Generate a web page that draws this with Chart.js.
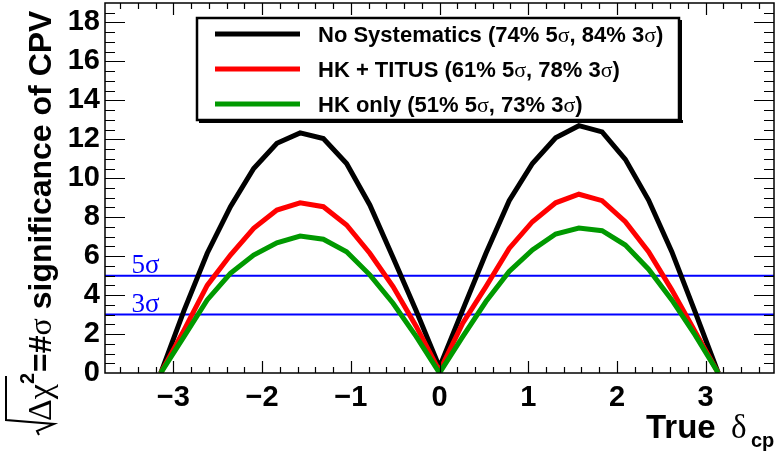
<!DOCTYPE html>
<html>

<head>
    <script src="https://cdn.jsdelivr.net/npm/chart.js"></script>
    <style>
        html,
        body {
            margin: 0px;
            padding: 0px;
            background: #ffffff;
        }

        .container {
            position: relative;
            width: 775px;
            height: 454px;
        }
    </style>
</head>

<body>
    <div class="container">
        <canvas id="myChart"></canvas>
    </div>

    <script>
        // true delta_cp values of the scan points
        const deltaCP = [-3.1416, -2.8798, -2.6180, -2.3562, -2.0944, -1.8326, -1.5708, -1.3090, -1.0472, -0.7854, -0.5236, -0.2618, 0,
            0.2618, 0.5236, 0.7854, 1.0472, 1.3090, 1.5708, 1.8326, 2.0944, 2.3562, 2.6180, 2.8798, 3.1416];

        const noSyst = [0, 3.2, 6.15, 8.54, 10.5, 11.8, 12.33, 12.04, 10.76, 8.63, 5.93, 3.19, 0.3,
            3.24, 6.15, 8.85, 10.76, 12.08, 12.7, 12.38, 10.97, 8.88, 6.23, 3.15, 0];
        const hkTitus = [0, 2.2, 4.5, 6.06, 7.43, 8.37, 8.74, 8.54, 7.6, 6.15, 4.44, 2.39, 0.1,
            2.56, 4.44, 6.4, 7.77, 8.74, 9.18, 8.85, 7.77, 6.23, 4.27, 2.13, 0];
        const hkOnly = [0, 1.87, 3.75, 5.12, 6.06, 6.69, 7.03, 6.87, 6.23, 5.04, 3.58, 1.87, 0,
            1.87, 3.67, 5.21, 6.32, 7.14, 7.44, 7.31, 6.57, 5.33, 3.75, 1.96, 0];

        const seriesNames = ['No Systematics (74% 5σ, 84% 3σ)', 'HK + TITUS (61% 5σ, 78% 3σ)', 'HK only (51% 5σ, 73% 3σ)'];
        const seriesColors = ['#000000', '#ff0000', '#009900'];

        const sigmaLevels = [5, 3];
        const sigmaLabels = ['5σ', '3σ'];

        const xTicks = [-3, -2, -1, 0, 1, 2, 3];
        const yTicks = [0, 2, 4, 6, 8, 10, 12, 14, 16, 18];
        const xRange = [-3.77, 3.77];
        const yRange = [0, 19];

        const sans = '"Liberation Sans", Arial, sans-serif';
        const serif = '"Liberation Serif", "Times New Roman", serif';

        function pts(ys) {
            return deltaCP.map((x, i) => ({ x: x, y: ys[i] }));
        }

        // bold sans text, with every sigma set in the serif face (like ROOT's symbol font)
        function richText(ctx, str, x, y, size) {
            const parts = str.split('σ');
            parts.forEach((p, i) => {
                ctx.font = 'bold ' + size + 'px ' + sans;
                ctx.fillText(p, x, y);
                x += ctx.measureText(p).width;
                if (i < parts.length - 1) {
                    ctx.font = size + 'px ' + serif;
                    ctx.fillText('σ', x, y);
                    x += ctx.measureText('σ').width;
                }
            });
            return x;
        }

        // ROOT style frame with inward ticks on all four sides
        const framePlugin = {
            id: 'frame',
            afterDatasetsDraw(chart) {
                const { ctx, chartArea: a } = chart;
                const x = chart.scales.x, y = chart.scales.y;
                ctx.save();
                ctx.strokeStyle = '#000';
                ctx.lineWidth = 1.5;
                ctx.strokeRect(a.left, a.top, a.right - a.left, a.bottom - a.top);
                ctx.lineWidth = 1.2;
                ctx.beginPath();
                for (let i = -19; i <= 19; i++) {
                    const px = Math.round(x.getPixelForValue(i * 0.2)) + 0.5;
                    if (px < a.left + 2 || px > a.right - 1) continue;
                    const len = i % 5 === 0 ? 12 : 6;
                    ctx.moveTo(px, a.bottom); ctx.lineTo(px, a.bottom - len);
                    ctx.moveTo(px, a.top); ctx.lineTo(px, a.top + len);
                }
                for (let i = 1; i <= 38; i++) {
                    const py = Math.round(y.getPixelForValue(i * 0.5)) + 0.5;
                    if (py < a.top + 2) continue;
                    const len = i % 4 === 0 ? 20 : 10;
                    ctx.moveTo(a.left, py); ctx.lineTo(a.left + len, py);
                    ctx.moveTo(a.right, py); ctx.lineTo(a.right - len, py);
                }
                ctx.stroke();
                ctx.restore();
            },
            afterDraw(chart) {
                const { ctx } = chart;
                const x = chart.scales.x, y = chart.scales.y;
                ctx.save();
                ctx.textBaseline = 'alphabetic';
                ctx.textAlign = 'left';

                // sigma labels
                ctx.fillStyle = '#0000ff';
                ctx.font = '27px ' + serif;
                sigmaLevels.forEach((lvl, i) => {
                    ctx.fillText(sigmaLabels[i], x.getPixelForValue(-3.47), y.getPixelForValue(lvl) - 3);
                });

                // legend box
                const lx = 197, ly = 18, lw = 482, lh = 102;
                ctx.fillStyle = '#ffffff';
                ctx.fillRect(lx, ly, lw, lh);
                ctx.fillStyle = '#000';
                ctx.fillRect(lx + 2, ly + lh, lw + 2, 3);
                ctx.fillRect(lx + lw, ly + 2, 3, lh + 1);
                ctx.strokeStyle = '#000';
                ctx.lineWidth = 2.5;
                ctx.strokeRect(lx, ly, lw, lh);
                seriesNames.forEach((name, i) => {
                    const cy = 34 + 35 * i;
                    ctx.strokeStyle = seriesColors[i];
                    ctx.lineWidth = 5;
                    ctx.beginPath();
                    ctx.moveTo(215, cy);
                    ctx.lineTo(300, cy);
                    ctx.stroke();
                    ctx.fillStyle = '#000';
                    richText(ctx, name, 318, cy + 8, 22);
                });

                // x title: True delta_cp
                ctx.fillStyle = '#000';
                ctx.font = 'bold 33px ' + sans;
                ctx.fillText('True', 646, 438);
                ctx.font = '33px ' + serif;
                ctx.fillText('δ', 731, 438);
                ctx.font = 'bold 20px ' + sans;
                ctx.fillText('cp', 751, 447);

                // y title: sqrt(Delta chi^2)=#sigma significance of CPV, read bottom to top
                ctx.translate(51, 0);
                ctx.rotate(-Math.PI / 2);
                let u = -421;
                ctx.font = '34px ' + serif;
                ctx.fillText('Δχ', u, 0);
                const wDX = ctx.measureText('Δχ').width;
                // radical sign
                ctx.strokeStyle = '#000';
                ctx.lineWidth = 2;
                ctx.beginPath();
                ctx.moveTo(u - 14, -12);
                ctx.lineTo(u - 10, -14);
                ctx.lineTo(u - 3, 3);
                ctx.lineTo(u + 1, -45);
                ctx.lineTo(u + wDX + 8, -45);
                ctx.stroke();
                u += wDX;
                ctx.font = 'bold 20px ' + sans;
                ctx.fillText('2', u, -17);
                u += ctx.measureText('2').width + 1;
                richText(ctx, '=#σ significance of CPV', u, 0, 32);
                ctx.restore();
            }
        };

        const context = document.getElementById('myChart').getContext('2d');
        const chart = new Chart(context, {
            type: 'line',
            data: {
                datasets: [
                    {
                        label: seriesNames[2],
                        data: pts(hkOnly),
                        borderColor: seriesColors[2],
                        borderWidth: 5,
                        pointRadius: 0,
                        order: 0
                    },
                    {
                        label: seriesNames[1],
                        data: pts(hkTitus),
                        borderColor: seriesColors[1],
                        borderWidth: 5,
                        pointRadius: 0,
                        order: 1
                    },
                    {
                        label: seriesNames[0],
                        data: pts(noSyst),
                        borderColor: seriesColors[0],
                        borderWidth: 5,
                        pointRadius: 0,
                        order: 2
                    },
                    ...sigmaLevels.map(lvl => ({
                        label: lvl + 'sigma',
                        data: [{ x: xRange[0], y: lvl }, { x: xRange[1], y: lvl }],
                        borderColor: '#0000ff',
                        borderWidth: 2,
                        pointRadius: 0,
                        order: 5
                    }))
                ]
            },
            options: {
                responsive: true,
                maintainAspectRatio: false,
                animation: false,
                layout: {
                    padding: { top: 3, right: 1, left: 0, bottom: 0 }
                },
                plugins: {
                    legend: { display: false },
                    tooltip: { enabled: false }
                },
                scales: {
                    x: {
                        type: 'linear',
                        min: xRange[0],
                        max: xRange[1],
                        grid: { display: false, drawTicks: false, tickLength: 0 },
                        border: { display: false },
                        afterBuildTicks: s => { s.ticks = xTicks.map(v => ({ value: v })); },
                        afterFit: s => {
                            s.height = 81;
                            s.paddingLeft = 0;
                            s.paddingRight = 0;
                        },
                        ticks: {
                            padding: 8,
                            color: '#000',
                            font: { family: sans, size: 29, weight: 'bold' },
                            callback: v => (v < 0 ? '\u2212' + Math.abs(v) : '' + v)
                        }
                    },
                    y: {
                        min: yRange[0],
                        max: yRange[1],
                        grid: { display: false, drawTicks: false, tickLength: 0 },
                        border: { display: false },
                        afterBuildTicks: s => { s.ticks = yTicks.map(v => ({ value: v })); },
                        afterFit: s => {
                            s.width = 105;
                            s.paddingTop = 0;
                            s.paddingBottom = 0;
                        },
                        ticks: {
                            padding: 5,
                            color: '#000',
                            font: { family: sans, size: 29, weight: 'bold' }
                        }
                    }
                }
            },
            plugins: [framePlugin]
        });
    </script>
</body>

</html>
